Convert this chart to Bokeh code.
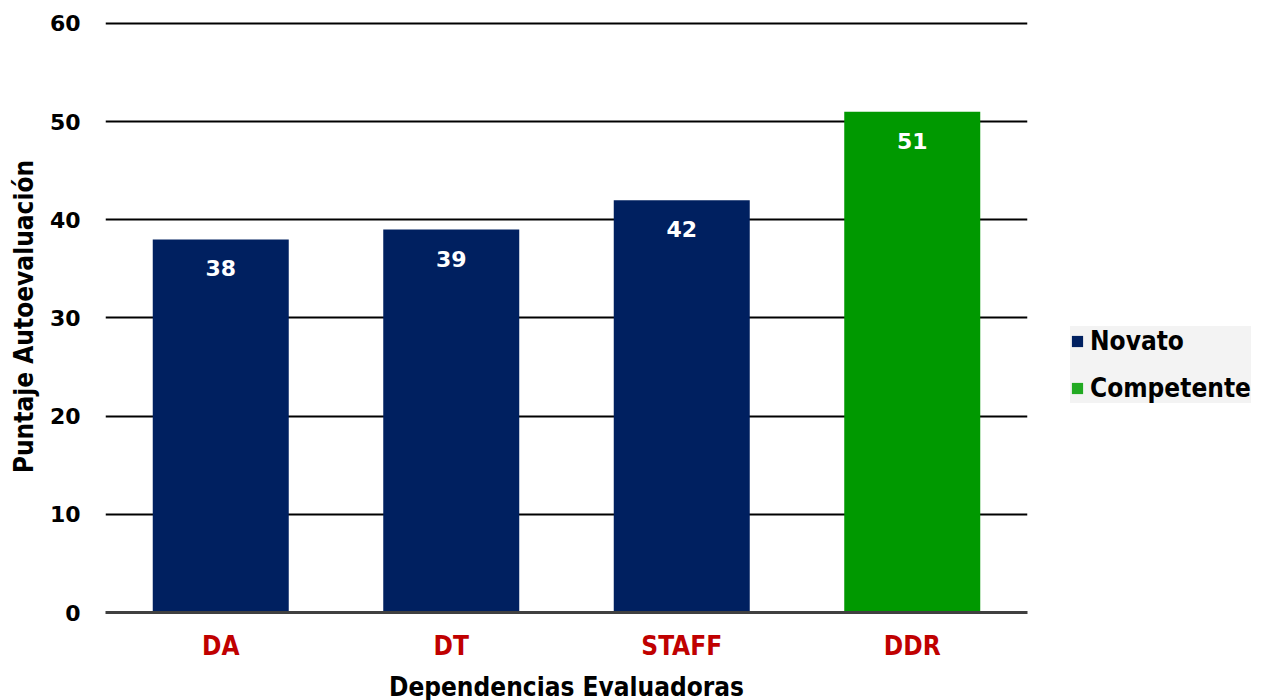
from bokeh.plotting import figure
from bokeh.models import ColumnDataSource, Legend, LegendItem, FixedTicker
from bokeh.core.properties import value
from bokeh.embed import file_html
from bokeh.resources import INLINE

categories = ["DA", "DT", "STAFF", "DDR"]
scores = [38, 39, 42, 51]
levels = ["Novato", "Novato", "Novato", "Competente"]
y_ticks = [0, 10, 20, 30, 40, 50, 60]

colors = {"Novato": "#002060", "Competente": "#009900"}
legend_colors = {"Novato": "#002060", "Competente": "#22AA22"}

COND = "DejaVu Sans Condensed"

p = figure(x_range=categories, y_range=(0, 60.3),
           frame_width=922, frame_height=592,
           output_backend="svg", toolbar_location=None,
           min_border_left=105, min_border_top=20, min_border_bottom=80,
           min_border_right=0)
p.outline_line_color = None
p.background_fill_color = "white"
p.border_fill_color = "white"

for lvl in ["Novato", "Competente"]:
    idx = [i for i, l in enumerate(levels) if l == lvl]
    src = ColumnDataSource(dict(x=[categories[i] for i in idx],
                                top=[scores[i] for i in idx],
                                lab=[str(scores[i]) for i in idx]))
    p.vbar(x="x", top="top", width=0.59, source=src,
           fill_color=colors[lvl], line_color=None)
    p.text(x="x", y="top", text="lab", source=src, y_offset=21,
           text_align="center", text_baseline="top", text_color="white",
           text_font=value("DejaVu Sans"), text_font_style="bold",
           text_font_size="22px")

# axes
p.yaxis.ticker = FixedTicker(ticks=y_ticks)
p.yaxis.axis_line_color = None
p.yaxis.major_tick_line_color = None
p.yaxis.minor_tick_line_color = None
p.yaxis.major_tick_out = 0
p.yaxis.major_tick_in = 0
p.yaxis.major_label_standoff = 25
p.yaxis.major_label_text_font = "DejaVu Sans"
p.yaxis.major_label_text_font_style = "bold"
p.yaxis.major_label_text_font_size = "22px"
p.yaxis.major_label_text_color = "black"
p.yaxis.axis_label = "Puntaje Autoevaluación"
p.yaxis.axis_label_text_font = COND
p.yaxis.axis_label_text_font_style = "bold"
p.yaxis.axis_label_text_font_size = "26px"
p.yaxis.axis_label_text_color = "black"
p.yaxis.axis_label_standoff = 8

p.xaxis.axis_line_color = "#404040"
p.xaxis.axis_line_width = 3
p.xaxis.major_tick_line_color = None
p.xaxis.minor_tick_line_color = None
p.xaxis.major_tick_out = 0
p.xaxis.major_tick_in = 0
p.xaxis.major_label_standoff = 18
p.xaxis.major_label_text_font = COND
p.xaxis.major_label_text_font_style = "bold"
p.xaxis.major_label_text_font_size = "26px"
p.xaxis.major_label_text_color = "#C00000"
p.xaxis.axis_label = "Dependencias Evaluadoras"
p.xaxis.axis_label_text_font = COND
p.xaxis.axis_label_text_font_style = "bold"
p.xaxis.axis_label_text_font_size = "26px"
p.xaxis.axis_label_text_color = "black"
p.xaxis.axis_label_standoff = 8

p.xgrid.grid_line_color = None
p.ygrid.grid_line_color = "black"
p.ygrid.grid_line_width = 2
p.ygrid.ticker = FixedTicker(ticks=y_ticks)

# legend with proxy squares
proxies = []
for lvl in ["Novato", "Competente"]:
    pr = p.rect(x=[categories[0]], y=[-100], width=0.1, height=1,
                fill_color=legend_colors[lvl], line_color=None)
    proxies.append(LegendItem(label=lvl, renderers=[pr]))

legend = Legend(items=proxies, location=(43, 209), orientation="vertical",
                background_fill_color="#F2F2F2", border_line_color=None,
                label_text_font=COND, label_text_color="black",
                label_text_font_style="bold", label_text_font_size="26px",
                glyph_width=14, glyph_height=14, label_height=20,
                label_standoff=6, spacing=17, padding=15, margin=0)
p.add_layout(legend, "right")

open("out.html", "w").write(file_html(p, INLINE))
